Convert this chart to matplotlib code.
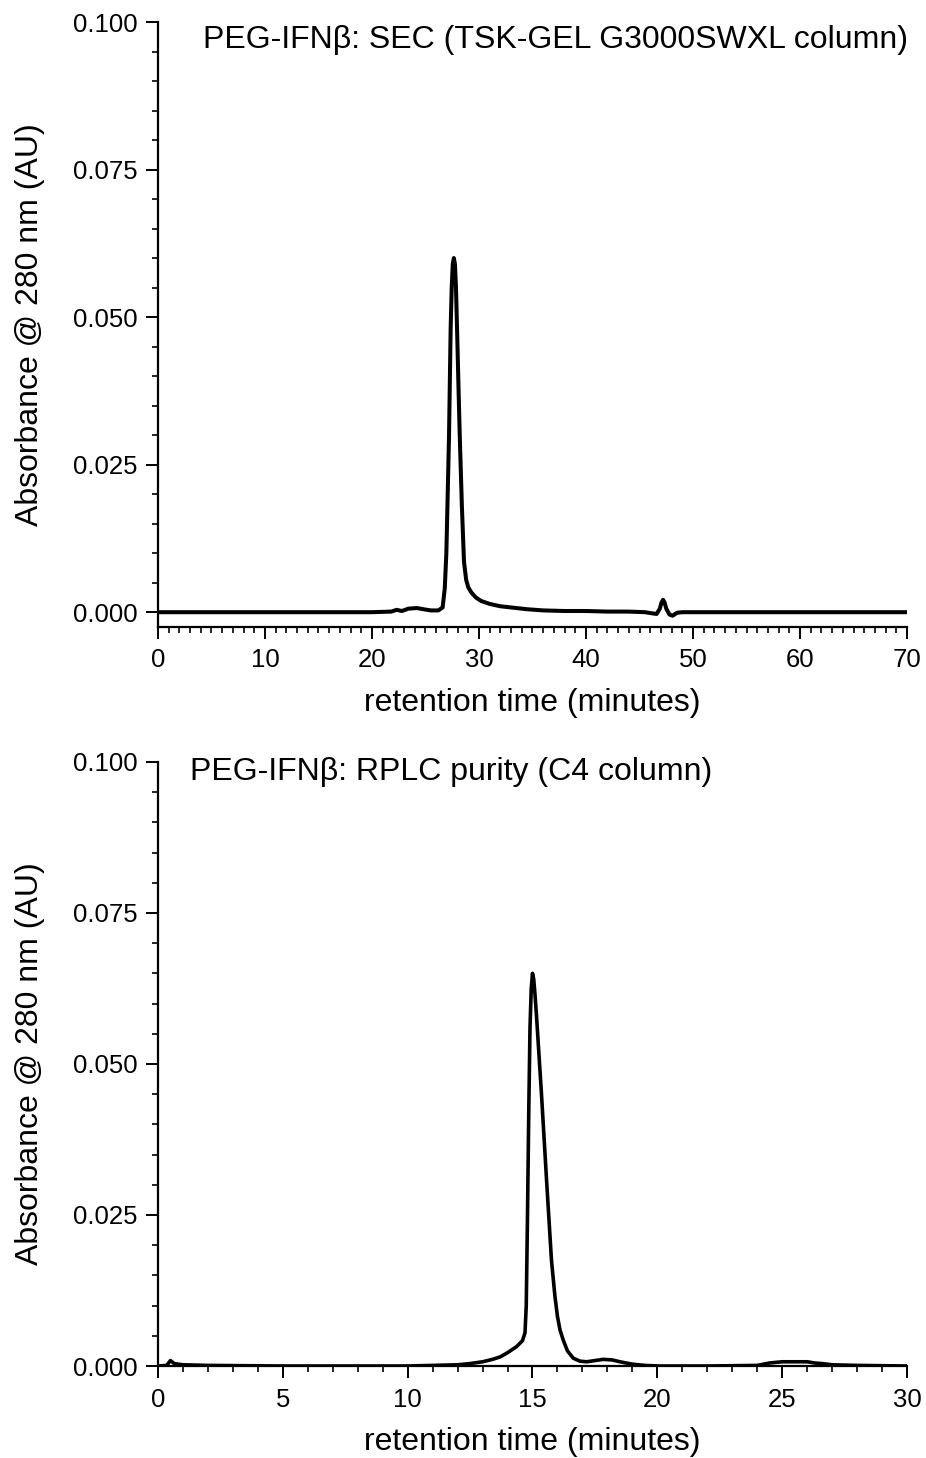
import matplotlib
matplotlib.use('Agg')
import matplotlib.pyplot as plt
from matplotlib.ticker import MultipleLocator, FormatStrFormatter

plt.rcParams['font.family'] = ['Liberation Sans', 'DejaVu Sans']

# --- SEC trace (TSK-GEL G3000SWXL) ---
sec_time = [0, 5, 10, 15, 20, 21.8, 22.3, 22.8, 23.4, 24.2, 24.8, 25.5, 26.2,
            26.6, 26.8, 26.95, 27.1, 27.2, 27.35, 27.45, 27.55, 27.65, 27.75,
            27.85, 27.95, 28.1, 28.2, 28.4, 28.6, 28.8, 29.0, 29.3, 29.7, 30.2,
            31, 32, 33, 34.5, 36, 38, 40, 42, 44, 45.5, 46.2, 46.6, 46.9, 47.05,
            47.2, 47.35, 47.5, 47.8, 48.1, 48.5, 49, 55, 60, 65, 70]
sec_abs = [0.0, 0.0, 0.0, 0.0, 0.0, 0.0001, 0.0004, 0.0002, 0.0006, 0.0007,
           0.0005, 0.0003, 0.0003, 0.0008, 0.004, 0.010, 0.022, 0.030, 0.048,
           0.055, 0.059, 0.060, 0.059, 0.055, 0.048, 0.037, 0.030, 0.018,
           0.0085, 0.0055, 0.0042, 0.0033, 0.0025, 0.0019, 0.0014, 0.0010,
           0.0008, 0.0005, 0.0003, 0.0002, 0.0002, 0.0001, 0.0001, 0.0,
           -0.0002, -0.0003, 0.0006, 0.0016, 0.0021, 0.0016, 0.0006, -0.0004,
           -0.0006, -0.0001, 0.0, 0.0, 0.0, 0.0, 0.0]

# --- RPLC trace (C4 column) ---
rplc_time = [0, 0.35, 0.5, 0.65, 1.0, 2.0, 5, 10, 11, 12, 12.5, 13.0, 13.4,
             13.7, 14.0, 14.36, 14.6, 14.7, 14.75, 14.8, 14.85, 14.9, 14.95,
             15.0, 15.05, 15.1, 15.16, 15.36, 15.56, 15.76, 15.9, 16.0, 16.1,
             16.23, 16.4, 16.63, 16.9, 17.17, 17.5, 17.83, 18.2, 18.5, 19.0,
             19.5, 20, 22, 24, 24.5, 25, 26, 26.3, 26.6, 27, 28, 30]
rplc_abs = [0.0, 0.0001, 0.0009, 0.0004, 0.0002, 0.0001, 0.0, 0.0, 0.0001,
            0.0002, 0.0004, 0.0007, 0.0011, 0.0015, 0.0022, 0.0032, 0.0042,
            0.0055, 0.010, 0.025, 0.042, 0.056, 0.0625, 0.065, 0.064, 0.0615,
            0.058, 0.045, 0.031, 0.0175, 0.0115, 0.0082, 0.006, 0.0043, 0.0025,
            0.0013, 0.0008, 0.0007, 0.0009, 0.0011, 0.0010, 0.0007, 0.0003,
            0.0001, 0.0, 0.0, 0.0001, 0.0005, 0.0007, 0.0007, 0.0005, 0.0004,
            0.0002, 0.0001, 0.0]

panels = [
    dict(t=sec_time, a=sec_abs, xmax=70, xmaj=10, xmin=1, ybot=-0.0025,
         title='PEG-IFN\u03b2: SEC (TSK-GEL G3000SWXL column)', tx=0.060, ty=0.971,
         lw=2.9, rect=[0.1706, 0.5700, 0.8089, 0.4149]),
    dict(t=rplc_time, a=rplc_abs, xmax=30, xmaj=5, xmin=1, ybot=0.0,
         title='PEG-IFN\u03b2: RPLC purity (C4 column)', tx=0.043, ty=0.983,
         lw=2.6, rect=[0.1706, 0.0631, 0.8089, 0.4143]),
]

fig = plt.figure(figsize=(9.26, 14.58), dpi=100)
fig.patch.set_facecolor('white')

for p in panels:
    ax = fig.add_axes(p['rect'])
    ax.plot(p['t'], p['a'], color='black', lw=p['lw'], solid_joinstyle='round',
            solid_capstyle='round')
    ax.set_xlim(0, p['xmax'])
    ax.set_ylim(p['ybot'], 0.100)
    ax.xaxis.set_major_locator(MultipleLocator(p['xmaj']))
    ax.xaxis.set_minor_locator(MultipleLocator(p['xmin']))
    ax.yaxis.set_major_locator(MultipleLocator(0.025))
    ax.yaxis.set_minor_locator(MultipleLocator(0.005))
    ax.yaxis.set_major_formatter(FormatStrFormatter('%.3f'))
    ax.spines['top'].set_visible(False)
    ax.spines['right'].set_visible(False)
    for s in ('left', 'bottom'):
        ax.spines[s].set_linewidth(1.6)
    ax.tick_params(which='major', length=8.5, width=1.4, labelsize=18.5, pad=6)
    ax.tick_params(axis='x', which='major', pad=7)
    ax.tick_params(which='minor', length=4.3, width=1.2)
    ax.set_xlabel('retention time (minutes)', fontsize=23, labelpad=11)
    ax.set_ylabel('Absorbance @ 280 nm (AU)', fontsize=23, labelpad=20)
    ax.text(p['tx'], p['ty'], p['title'], transform=ax.transAxes,
            ha='left', va='center', fontsize=23)

plt.savefig('out.png', dpi=100, facecolor='white')
plt.close()
